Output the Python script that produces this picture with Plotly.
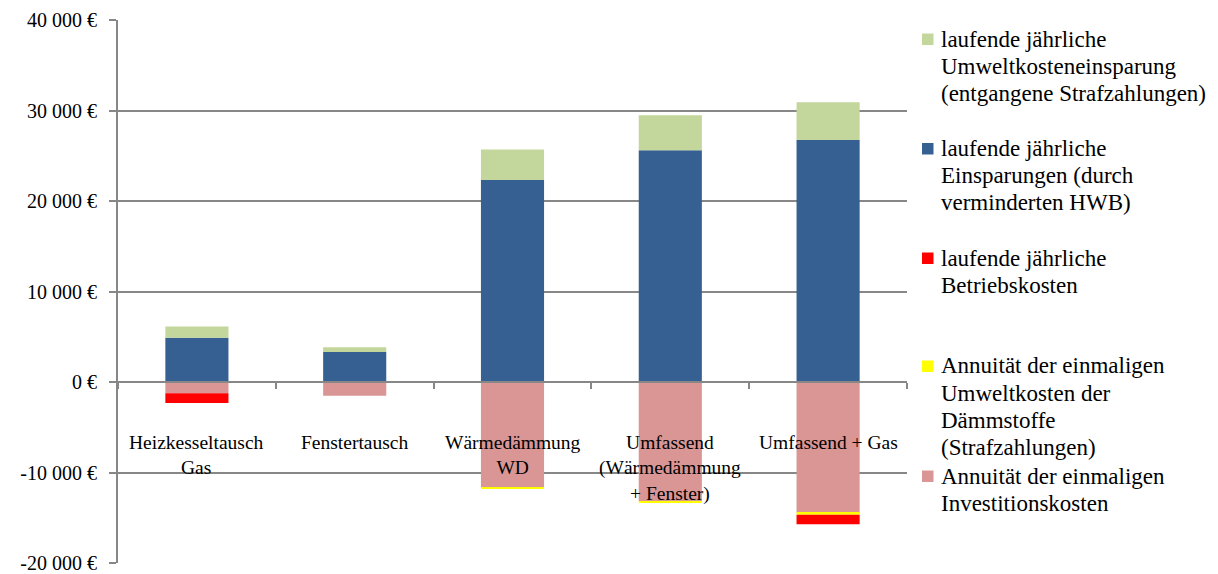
import plotly.graph_objects as go

# ---------------- data ----------------
categories = ["Heizkesseltausch Gas", "Fenstertausch", "Wärmedämmung WD",
              "Umfassend (Wärmedämmung + Fenster)", "Umfassend + Gas"]
category_labels = ["Heizkesseltausch<br>Gas", "Fenstertausch", "Wärmedämmung<br>WD",
                   "Umfassend<br>(Wärmedämmung<br>+ Fenster)", "Umfassend + Gas"]

investition = [-1250, -1510, -11700, -13190, -14470]      # Annuität Investitionskosten
umwelt_daemm = [0, 0, -120, -120, -200]                   # Annuität Umweltkosten Dämmstoffe
betrieb = [-1070, 0, 0, 0, -1040]                         # laufende Betriebskosten
einsparung = [4880, 3320, 22320, 25610, 26750]            # laufende Einsparungen HWB
umwelt_einsp = [1250, 520, 3370, 3870, 4170]              # Umweltkosteneinsparung

series_names = [
    "laufende jährliche<br>Umweltkosteneinsparung<br>(entgangene Strafzahlungen)",
    "laufende jährliche<br>Einsparungen (durch<br>verminderten HWB)",
    "laufende jährliche<br>Betriebskosten",
    "Annuität der einmaligen<br>Umweltkosten der<br>Dämmstoffe<br>(Strafzahlungen)",
    "Annuität der einmaligen<br>Investitionskosten",
]
series_colors = ["#C3D69B", "#376092", "#FF0000", "#FFFF00", "#D99694"]

y_tickvals = [-20000, -10000, 0, 10000, 20000, 30000, 40000]
y_ticktext = ["-20 000 €", "-10 000 €", "0 €", "10 000 €", "20 000 €", "30 000 €", "40 000 €"]

# ---------------- layout helpers ----------------
W, H = 1218, 574
PL, PR, PT, PB = 118, 907, 20, 563
FONT = "Liberation Serif"
GRID = "#878787"


def px_x(px):
    return (px - PL) / (PR - PL)


def px_y(py):
    return (PB - py) / (PB - PT)


fig = go.Figure()

# trace order: negatives stack from zero outward, positives from zero upward
trace_data = [
    (investition, 4),
    (umwelt_daemm, 3),
    (betrieb, 2),
    (einsparung, 1),
    (umwelt_einsp, 0),
]
for values, idx in trace_data:
    fig.add_trace(go.Bar(
        x=categories, y=values, name=series_names[idx],
        marker=dict(color=series_colors[idx], line=dict(width=0)),
        width=0.4, showlegend=False,
    ))

fig.update_layout(
    width=W, height=H,
    margin=dict(l=PL, r=W - PR, t=PT, b=H - PB, pad=0, autoexpand=False),
    barmode="relative",
    plot_bgcolor="white", paper_bgcolor="white",
    font=dict(family=FONT, size=20, color="black"),
    xaxis=dict(
        type="category", range=[-0.5, 4.5],
        anchor="free", position=1 / 3, automargin=False,
        showline=True, linecolor=GRID, linewidth=2,
        ticks="outside", tickson="boundaries", ticklen=6, tickcolor=GRID, tickwidth=2,
        showticklabels=False, showgrid=False, zeroline=False,
    ),
    yaxis=dict(
        range=[-20000, 40000], automargin=False,
        tickvals=y_tickvals, ticktext=y_ticktext,
        showgrid=True, gridcolor=GRID, gridwidth=1.5,
        showline=True, linecolor=GRID, linewidth=2,
        ticks="outside", ticklen=7, tickcolor=GRID, tickwidth=1.5,
        ticklabelstandoff=8,
        zeroline=False,
        tickfont=dict(family=FONT, size=20, color="black"),
    ),
)

# category labels below the zero line
for cat, lab in zip(categories, category_labels):
    fig.add_annotation(
        x=cat, y=-5250, xref="x", yref="y", text=lab, showarrow=False,
        yanchor="top", xanchor="center", align="center",
        font=dict(family=FONT, size=19.5, color="black"),
    )

# legend (manual, to reproduce the Excel layout)
first_line_y = [39, 148.5, 258, 366, 476]
line_gap = 27.2
for name, color, y0 in zip(series_names, series_colors, first_line_y):
    fig.add_shape(
        type="rect", xref="paper", yref="paper",
        x0=px_x(922), x1=px_x(933.5), y0=px_y(y0 - 5.5), y1=px_y(y0 + 6),
        fillcolor=color, line=dict(width=0),
    )
    for i, line in enumerate(name.split("<br>")):
        fig.add_annotation(
            x=px_x(939), y=px_y(y0 + i * line_gap), xref="paper", yref="paper",
            text=line, showarrow=False, xanchor="left", yanchor="middle",
            font=dict(family=FONT, size=23, color="black"),
        )

fig.write_html("out.html")
